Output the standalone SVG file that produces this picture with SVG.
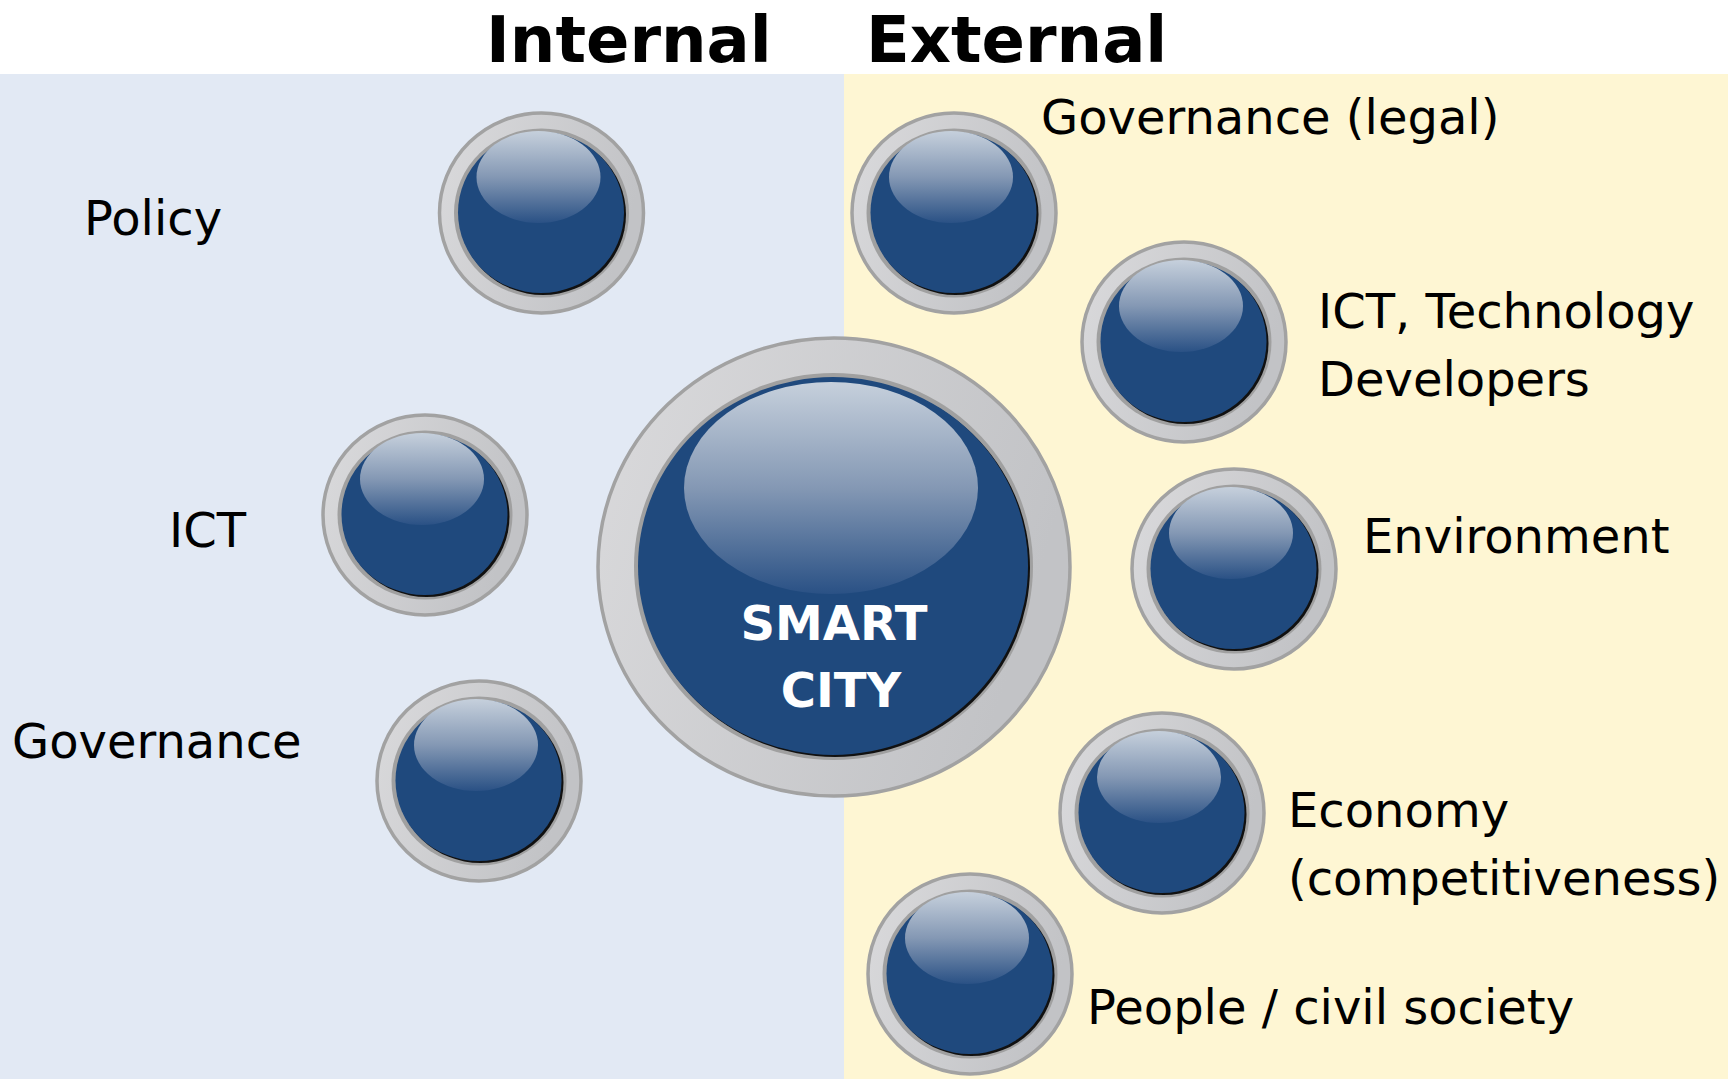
<svg xmlns="http://www.w3.org/2000/svg" xmlns:xlink="http://www.w3.org/1999/xlink" width="1728" height="1079" viewBox="0 0 1728 1079">
<style>
.lbl{font-family:"DejaVu Sans","Liberation Sans",sans-serif;font-size:48px;fill:#000}
.ttl{font-family:"DejaVu Sans","Liberation Sans",sans-serif;font-size:64px;font-weight:bold;fill:#000}
.ctr{font-family:"DejaVu Sans","Liberation Sans",sans-serif;font-size:48px;font-weight:bold;fill:#fff;text-anchor:middle}
.outer{fill:url(#rim);stroke:#a2a2a2;stroke-width:3.5}
.ring{fill:#a0a0a0}
.shadow{fill:#111}
.blue{fill:#1f497d}
.hl{fill:url(#gloss)}
</style>
<defs>
<linearGradient id="rim" x1="0" y1="0" x2="1" y2="0.3">
<stop offset="0" stop-color="#dadadc"/>
<stop offset="1" stop-color="#c2c3c6"/>
</linearGradient>
<linearGradient id="gloss" x1="0" y1="0" x2="0" y2="1">
<stop offset="0" stop-color="#c6d0dc"/>
<stop offset="0.5" stop-color="#8498b4"/>
<stop offset="1" stop-color="#2a5185"/>
</linearGradient>
<g id="knob">
<ellipse class="outer" cx="0" cy="0" rx="102" ry="100"/>
<ellipse class="ring" cx="0" cy="0" rx="87.5" ry="84.5"/>
<ellipse class="shadow" cx="1.5" cy="1.5" rx="83" ry="80.5"/>
<ellipse class="blue" cx="-0.5" cy="-0.5" rx="83" ry="80.5"/>
<ellipse class="hl" cx="-3" cy="-36" rx="62" ry="46"/>
</g>
</defs>
<rect x="0" y="0" width="1728" height="1079" fill="#ffffff"/>
<rect id="panel-internal" x="0" y="74" width="844" height="1005" fill="#e2e9f4"/>
<rect id="panel-external" x="844" y="74" width="884" height="1005" fill="#fef6d3"/>
<text class="ttl" x="486" y="62">Internal</text>
<text class="ttl" x="866" y="62">External</text>
<g id="connectors"></g>
<g id="node-smart-city">
<ellipse class="outer" cx="834" cy="567" rx="236" ry="229" stroke-width="4"/>
<ellipse class="ring" cx="833.5" cy="566.5" rx="199.5" ry="193.5"/>
<ellipse class="shadow" cx="835" cy="568" rx="195" ry="189"/>
<ellipse class="blue" cx="833" cy="566" rx="195" ry="189"/>
<ellipse class="hl" cx="831" cy="488" rx="147" ry="106"/>
<text class="ctr" x="834" y="640">SMART</text>
<text class="ctr" x="841" y="707">CITY</text>
</g>
<g id="node-policy">
<use xlink:href="#knob" x="541.5" y="213"/>
<text class="lbl" x="84" y="235">Policy</text>
</g>
<g id="node-ict">
<use xlink:href="#knob" x="425" y="515"/>
<text class="lbl" x="169" y="547">ICT</text>
</g>
<g id="node-governance">
<use xlink:href="#knob" x="479" y="781"/>
<text class="lbl" x="12" y="758">Governance</text>
</g>
<g id="node-governance-legal">
<use xlink:href="#knob" x="954" y="213"/>
<text class="lbl" x="1041" y="134">Governance (legal)</text>
</g>
<g id="node-ict-tech">
<use xlink:href="#knob" x="1184" y="342"/>
<text class="lbl" x="1318" y="328">ICT, Technology</text>
<text class="lbl" x="1318" y="396">Developers</text>
</g>
<g id="node-environment">
<use xlink:href="#knob" x="1234" y="569"/>
<text class="lbl" x="1363" y="553">Environment</text>
</g>
<g id="node-economy">
<use xlink:href="#knob" x="1162" y="813"/>
<text class="lbl" x="1288" y="827">Economy</text>
<text class="lbl" x="1288" y="895">(competitiveness)</text>
</g>
<g id="node-people">
<use xlink:href="#knob" x="970" y="974"/>
<text class="lbl" x="1087" y="1024">People / civil society</text>
</g>
</svg>
